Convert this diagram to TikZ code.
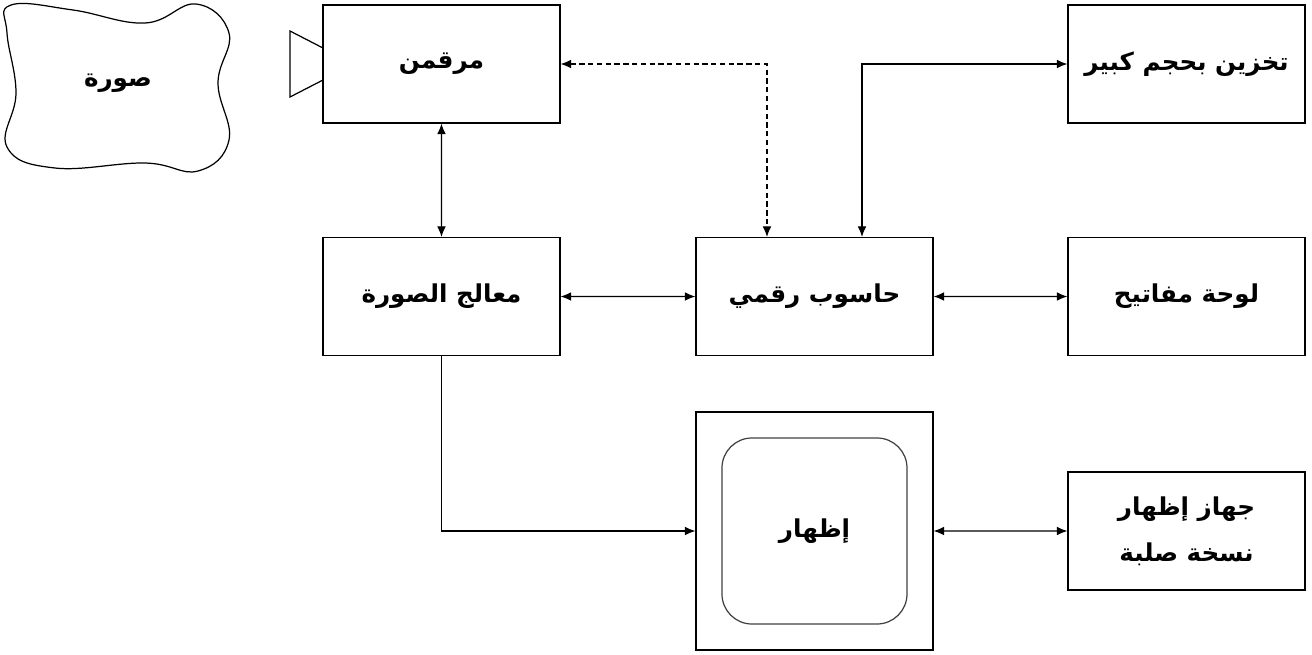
\documentclass[tikz,border=0pt]{standalone}
\usepackage{fontspec}
\newfontfamily\arabicfont[Script=Arabic]{DejaVu Sans}
\TeXXeTstate=1
\usetikzlibrary{arrows.meta}
\newcommand{\artxt}[1]{\beginR #1\endR}

\begin{document}
\begin{tikzpicture}[scale=0.2]
\tikzstyle{every node}+=[inner sep=0pt, font=\arabicfont\bfseries\fontsize{14}{26}\selectfont]
\tikzstyle{block}=[draw, line width=0.7pt, minimum width=4.74cm, minimum height=2.36cm, align=center]
\tikzstyle{link}=[line width=0.7pt, {Latex[length=6pt,width=5pt]}-{Latex[length=6pt,width=5pt]}]
\useasboundingbox (0,0) rectangle (131.2,-65.4);
\draw [line width=0.7pt] plot [smooth cycle, tension=0.7] coordinates {(1.1,-0.5) (7.3,-1.0) (14.5,-2.3) (19.6,-0.4) (22.9,-3.3) (21.8,-8.3) (22.9,-14.0) (19.8,-17.1) (14.5,-16.3) (5.5,-16.8) (0.7,-14.7) (1.6,-9.3) (0.7,-3.3)};
\node (image) at (11.8,-8.3) {\artxt{صورة}};
\node [block] (digitizer) at (44.15,-6.4) {\artxt{مرقمن}};
\draw [line width=0.7pt] (32.3,-4.8) -- (29,-3.1) -- (29,-9.7) -- (32.3,-8.0);
\node [block] (processor) at (44.15,-29.65) {\artxt{معالج الصورة}};
\node [block] (computer) at (81.45,-29.65) {\artxt{حاسوب رقمي}};
\node [block] (keyboard) at (118.65,-29.65) {\artxt{لوحة مفاتيح}};
\node [block] (storage) at (118.65,-6.4) {\artxt{تخزين بحجم كبير}};
\node [block, minimum height=4.76cm] (display) at (81.45,-53.1) {};
\node [draw, line width=0.7pt, black!75, text=black, rounded corners=0.6cm, minimum width=3.7cm, minimum height=3.72cm] (screen) at (display) {\artxt{إظهار}};
\node [block] (hardcopy) at (118.65,-53.1) {\artxt{جهاز إظهار}\\\artxt{نسخة صلبة}};
\draw [link] (digitizer) -- (processor);
\draw [link, dash pattern=on 3pt off 2pt] (digitizer) -| ([xshift=-4.75cm]computer.north);
\draw [link] (storage) -| ([xshift=4.75cm]computer.north);
\draw [link] (processor) -- (computer);
\draw [link] (computer) -- (keyboard);
\draw [line width=0.7pt, -{Latex[length=6pt,width=5pt]}] (processor) |- (display);
\draw [link] (display) -- (hardcopy);
\end{tikzpicture}
\end{document}
